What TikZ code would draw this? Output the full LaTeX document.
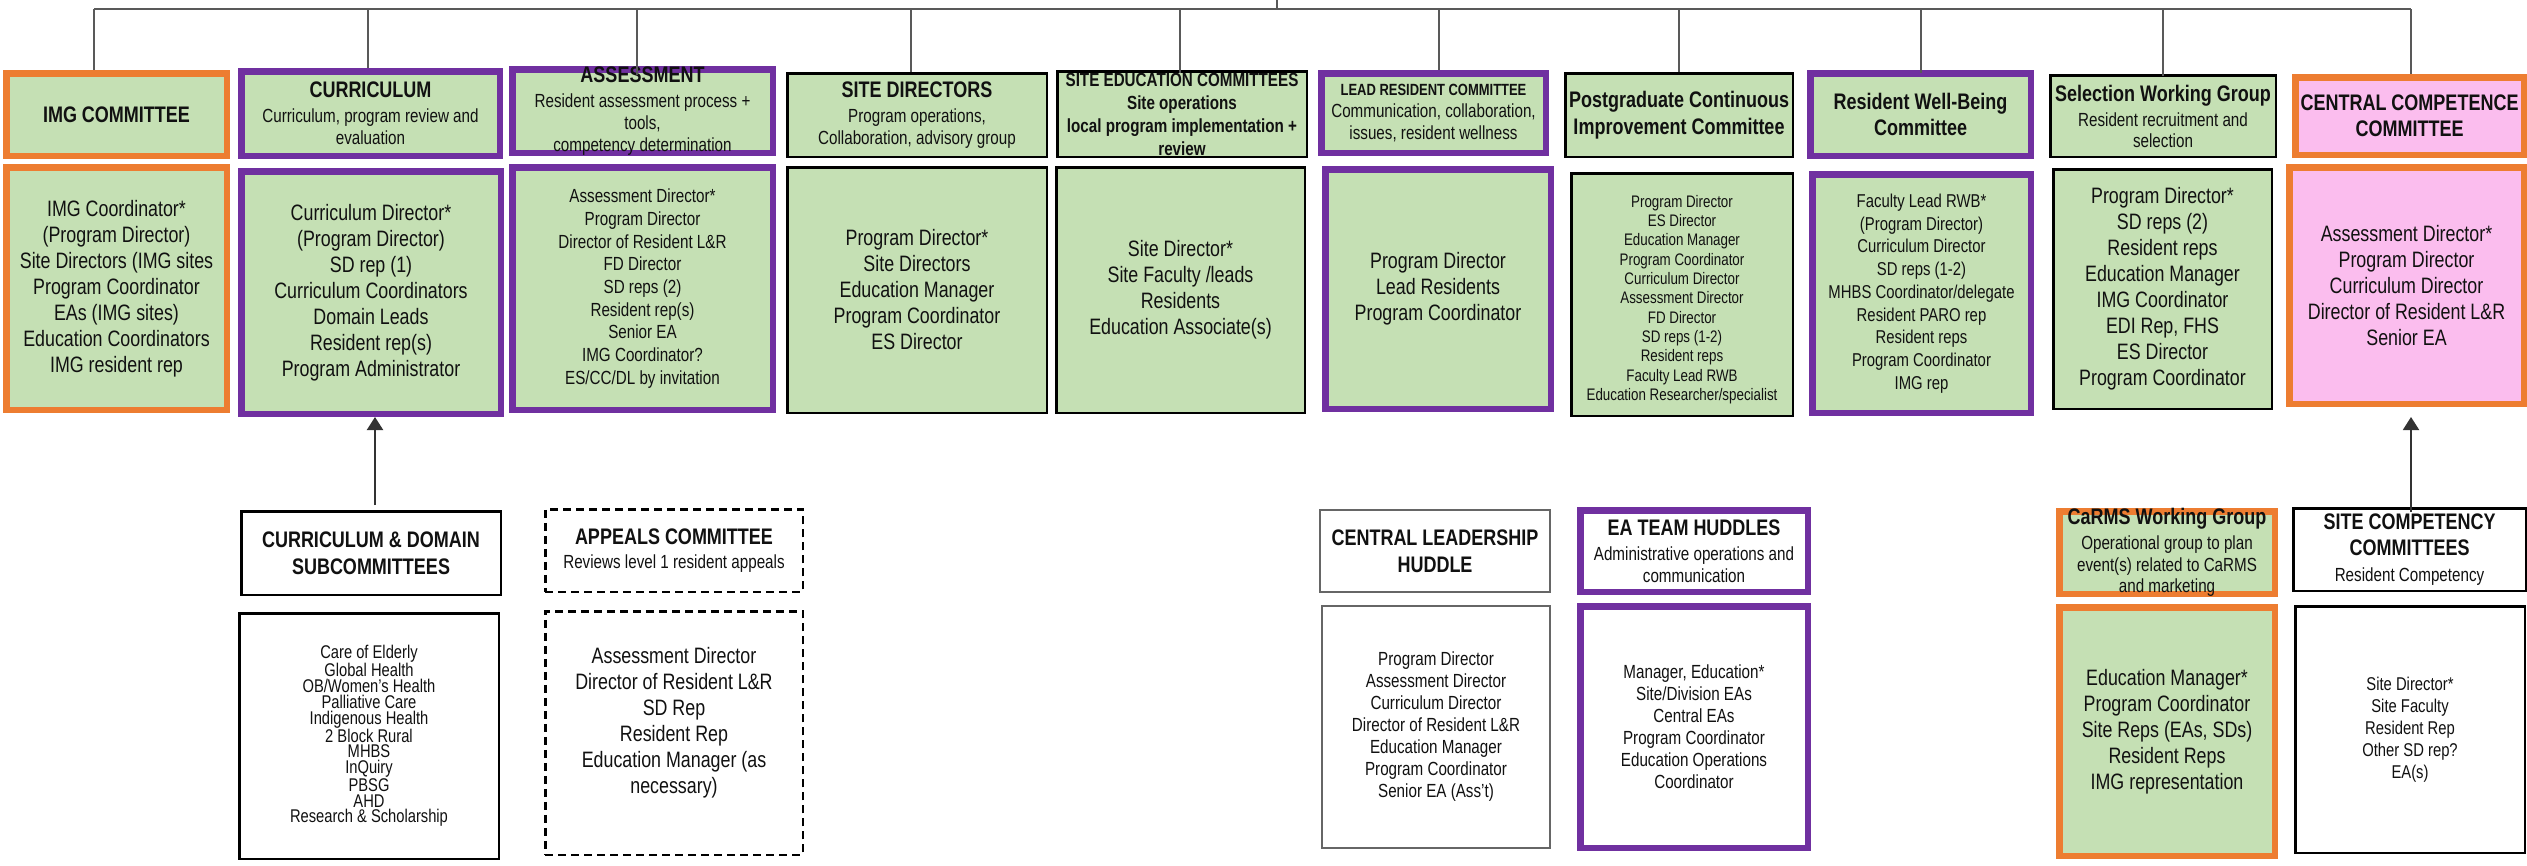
\documentclass[tikz,border=0pt]{standalone}
\usepackage{fontspec}
\setmainfont{Liberation Sans}[FakeStretch=0.8]
\usetikzlibrary{arrows.meta}
\definecolor{grn}{HTML}{C5E0B4}
\definecolor{purp}{HTML}{7030A0}
\definecolor{orng}{HTML}{ED7D31}
\definecolor{pnk}{HTML}{FBBDEE}
\definecolor{lnk}{HTML}{595959}
\definecolor{txk}{HTML}{111111}
\newcommand\fz[2]{\fontsize{#1}{#2}\selectfont}
\newcommand\ttl[1]{{\bfseries\fontsize{22.5}{22}\selectfont #1}}
\newcommand\bx[8]{%
  \node[#2, minimum width={(#5)-(#3)-\pgflinewidth}, minimum height={(#6)-(#4)-\pgflinewidth}] (#1) at ({((#3)+(#5))/2},{((#4)+(#6))/2}) {};
  \node[txt,#7] (#1-t) at (#1.center) {#8};}
\begin{document}
\begin{tikzpicture}[x=1pt,y=-1pt,
  txt/.style={align=center,inner sep=0pt,text=txk},
  hO/.style={draw=orng,line width=6.5pt,fill=grn},
  hP/.style={draw=purp,line width=6.5pt,fill=grn},
  hK/.style={draw=black,line width=2.5pt,fill=grn},
  hOP/.style={draw=orng,line width=6.5pt,fill=pnk},
  wK/.style={draw=black,line width=2.5pt,fill=white},
  wD/.style={draw=black,line width=2.5pt,dash pattern=on 8pt off 5pt,fill=white},
  wG/.style={draw=black!60,line width=1.8pt,fill=white},
  wP/.style={draw=purp,line width=6.5pt,fill=white},
  big/.style={font={\fz{22.3}{26}}},
  mid/.style={font={\fz{19}{22}}},
  sub/.style={font={\fz{19}{22}}},
  hd/.style={font={\bfseries\fz{22.5}{26.5}}},
  bus/.style={draw=lnk,line width=2.5pt},
  arr/.style={draw=black!80,line width=2pt,-{Triangle[width=16pt,length=13pt]}}]
\fill[white] (0,0) rectangle (2527,865);
\useasboundingbox (0,0) rectangle (2527,865);

% ---------- top row ----------
\bx{imgH}{hO}{3}{70}{230}{159}{hd}{IMG COMMITTEE}
\bx{imgB}{hO}{3}{164}{230}{413}{big}{IMG Coordinator*\\(Program Director)\\Site Directors (IMG sites\\Program Coordinator\\EAs (IMG sites)\\Education Coordinators\\IMG resident rep}

\bx{curH}{hP}{238}{68}{503}{159}{sub}{\ttl{CURRICULUM}\\[3pt]Curriculum, program review and\\evaluation}
\bx{curB}{hP}{238}{168}{504}{417}{big}{Curriculum Director*\\(Program Director)\\SD rep (1)\\Curriculum Coordinators\\Domain Leads\\Resident rep(s)\\Program Administrator}

\bx{assH}{hP}{509}{66}{776}{156}{sub}{\ttl{ASSESSMENT}\\[3pt]Resident assessment process +\\tools,\\competency determination}
\bx{assB}{hP}{509}{164}{776}{413}{font={\fz{19}{22.7}}}{Assessment Director*\\Program Director\\Director of Resident L\&R\\FD Director\\SD reps (2)\\Resident rep(s)\\Senior EA\\IMG Coordinator?\\ES/CC/DL by invitation}

\bx{sdH}{hK}{786}{72}{1048}{158}{sub}{\ttl{SITE DIRECTORS}\\[3pt]Program operations,\\Collaboration, advisory group}
\bx{sdB}{hK}{786}{166}{1048}{414}{big}{Program Director*\\Site Directors\\Education Manager\\Program Coordinator\\ES Director}

\bx{seH}{hK}{1056}{70}{1308}{158}{font={\bfseries\fz{19}{23}}}{SITE EDUCATION COMMITTEES\\Site operations\\local program implementation +\\review}
\bx{seB}{hK}{1055}{166}{1306}{414}{big}{Site Director*\\Site Faculty /leads\\Residents\\Education Associate(s)}

\bx{lrH}{hP}{1318}{70}{1549}{156}{sub}{{\bfseries\fontsize{16.2}{16}\selectfont LEAD RESIDENT COMMITTEE}\\Communication, collaboration,\\issues, resident wellness}
\bx{lrB}{hP}{1322}{166}{1554}{412}{big}{Program Director\\Lead Residents\\Program Coordinator}

\bx{pcH}{hK}{1564}{72}{1794}{158}{hd}{Postgraduate Continuous\\Improvement Committee}
\bx{pcB}{hK}{1570}{172}{1794}{417}{font={\fz{16.7}{19.3}},yshift=-5pt}{Program Director\\ES Director\\Education Manager\\Program Coordinator\\Curriculum Director\\Assessment Director\\FD Director\\SD reps (1-2)\\Resident reps\\Faculty Lead RWB\\Education Researcher/specialist}

\bx{rwbH}{hP}{1807}{70}{2034}{159}{hd}{Resident Well-Being\\Committee}
\bx{rwbB}{hP}{1809}{171}{2034}{416}{font={\fz{18.6}{22.7}}}{Faculty Lead RWB*\\(Program Director)\\Curriculum Director\\SD reps (1-2)\\MHBS Coordinator/delegate\\Resident PARO rep\\Resident reps\\Program Coordinator\\IMG rep}

\bx{swgH}{hK}{2049}{74}{2277}{158}{font={\fz{19}{21}}}{\ttl{Selection Working Group}\\[4pt]Resident recruitment and\\selection}
\bx{swgB}{hK}{2052}{168}{2273}{410}{big}{Program Director*\\SD reps (2)\\Resident reps\\Education Manager\\IMG Coordinator\\EDI Rep, FHS\\ES Director\\Program Coordinator}

\bx{cccH}{hOP}{2292}{74}{2527}{158}{hd}{CENTRAL COMPETENCE\\COMMITTEE}
\bx{cccB}{hOP}{2286}{164}{2527}{407}{big}{Assessment Director*\\Program Director\\Curriculum Director\\Director of Resident L\&R\\Senior EA}

% ---------- bottom row ----------
\bx{cdsH}{wK}{240}{510}{502}{596}{hd}{CURRICULUM \& DOMAIN\\SUBCOMMITTEES}
\bx{cdsB}{wK}{238}{612}{500}{860}{font={\fz{18.4}{15.7}}}{Care of Elderly\\Global Health\\OB/Women’s Health\\Palliative Care\\Indigenous Health\\2 Block Rural\\MHBS\\InQuiry\\PBSG\\AHD\\Research \& Scholarship}

\bx{appH}{wD}{544}{508}{804}{593}{sub}{\ttl{APPEALS COMMITTEE}\\[2pt]Reviews level 1 resident appeals}
\bx{appB}{wD}{544}{610}{804}{856}{big,yshift=10pt}{Assessment Director\\Director of Resident L\&R\\SD Rep\\Resident Rep\\Education Manager (as\\necessary)}

\bx{clhH}{wG}{1319}{509}{1551}{593}{hd}{CENTRAL LEADERSHIP\\HUDDLE}
\bx{clhB}{wG}{1321}{605}{1551}{849}{mid}{Program Director\\Assessment Director\\Curriculum Director\\Director of Resident L\&R\\Education Manager\\Program Coordinator\\Senior EA (Ass’t)}

\bx{eaH}{wP}{1577}{507}{1811}{595}{sub}{\ttl{EA TEAM HUDDLES}\\[3pt]Administrative operations and\\communication}
\bx{eaB}{wP}{1577}{603}{1811}{851}{mid}{Manager, Education*\\Site/Division EAs\\Central EAs\\Program Coordinator\\Education Operations\\Coordinator}

\bx{carH}{hO}{2056}{508}{2278}{597}{font={\fz{19}{21.7}}}{\ttl{CaRMS Working Group}\\[3pt]Operational group to plan\\event(s) related to CaRMS\\and marketing}
\bx{carB}{hO}{2056}{604}{2278}{859}{big}{Education Manager*\\Program Coordinator\\Site Reps (EAs, SDs)\\Resident Reps\\IMG representation}

\bx{sccH}{wK}{2292}{507}{2527}{592}{sub}{\ttl{SITE COMPETENCY}\\[4pt]\ttl{COMMITTEES}\\[4pt]Resident Competency}
\bx{sccB}{wK}{2294}{605}{2526}{854}{font={\fz{18.5}{22}}}{Site Director*\\Site Faculty\\Resident Rep\\Other SD rep?\\EA(s)}

% ---------- connectors ----------
\coordinate (root) at (1277,0);
\coordinate (busL) at (94,9);
\coordinate (busR) at (2411,9);
\draw[bus] (busL) -- (busR);
\draw[bus] (root) -- (root |- busL);
\foreach \n/\x/\e in {imgH/94/0,curH/368/0,assH/637/9,sdH/911/0,seH/1180/3,lrH/1439/0,pcH/1679/0,rwbH/1921/3,swgH/2163/2,cccH/2411/0}{
  \coordinate (d-\n) at (\x,9);
  \coordinate (e-\n) at ([yshift=-\e pt]\n.north);
  \draw[bus] (d-\n) -- (d-\n |- e-\n);
}
\coordinate (a1) at ([xshift=4pt,yshift=5pt]cdsH.north);
\draw[arr] (a1) -- (a1 |- curB.south);
\coordinate (a2) at ([xshift=1.5pt,yshift=-5pt]sccH.north);
\coordinate (a2e) at ([yshift=-10pt]cccB.south);
\draw[arr] (a2) -- (a2 |- a2e);
\end{tikzpicture}
\end{document}
